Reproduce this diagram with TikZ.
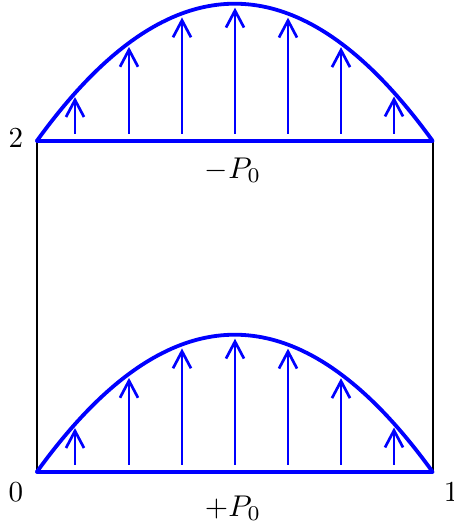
\documentclass[tikz,border=0pt]{standalone}
\usepackage{graphicx}
\usetikzlibrary{arrows.meta}
\begin{document}
\begin{tikzpicture}[x=1pt,y=-1pt,
  load/.style={blue, line width=3.8pt, line cap=round, line join=round},
  force/.style={blue, line width=2.7pt, -{Straight Barb[length=17pt,width=18pt]}},
  wall/.style={black, line width=2pt},
  tick/.style={inner sep=0pt, anchor=base},
  plabel/.style={inner sep=0pt, anchor=base}]
\useasboundingbox (0,0) rectangle (453,524);
\def\L{37}
\def\R{432.5}
\def\W{395.5}
\def\H{137}
\coordinate (A) at (\L,471.7);
\coordinate (B) at (\R,471.7);
\coordinate (C) at (\L,140.7);
\coordinate (D) at (\R,140.7);
\draw[wall] (A) -- (C);
\draw[wall] (B) -- (D);
\foreach \bs in {140.7,471.7}{
  \draw[load] plot[domain=0:1, samples=80, variable=\tp] ({\L+\W*\tp},{\bs-4*\H*\tp*(1-\tp)});
  \draw[load] (\L,\bs) -- (\R,\bs);
  \foreach \xx in {75,129,182,235,288,341,394}{
    \pgfmathsetmacro\tv{(\xx-\L)/\W}
    \pgfmathsetmacro\tip{\bs-4*\H*\tv*(1-\tv)+4}
    \coordinate (s) at (\xx,\bs-7);
    \coordinate (e) at (\xx,\tip);
    \draw[force] (s) -- (e);
  }
}
\node[tick] (n2) at (16,147) {\scalebox{2.9}{2}};
\node[tick] (n0) at (16,501) {\scalebox{2.9}{0}};
\node[tick] (n1) at (451,501) {\scalebox{2.9}{1}};
\node[plabel] (pm) at (233,178) {\scalebox{3.0}{$-P_0$}};
\node[plabel] (pp) at (233,516) {\scalebox{3.0}{$+P_0$}};
\end{tikzpicture}
\end{document}
